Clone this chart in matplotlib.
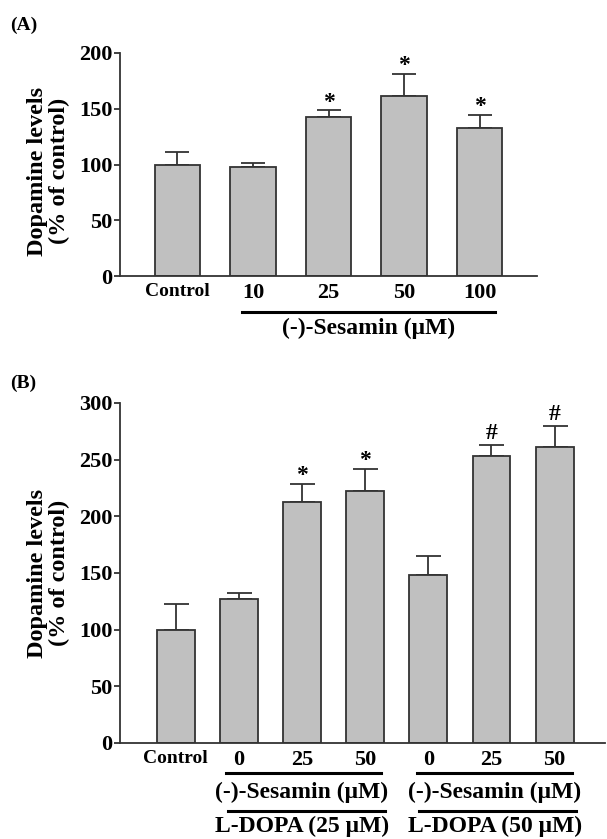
import matplotlib
matplotlib.use("Agg")
import matplotlib.pyplot as plt
import matplotlib.transforms as mtransforms
import numpy as np

plt.rcParams['font.family'] = ['Liberation Serif', 'DejaVu Serif']
plt.rcParams['font.weight'] = 'bold'

# panel A data
a_labels = ["Control", "10", "25", "50", "100"]
a_means = [100, 97.5, 142.5, 161, 132.5]
a_errs = [11, 3.5, 6, 20.5, 12]
a_marks = ["", "", "*", "*", "*"]

# panel B data
b_labels = ["Control", "0", "25", "50", "0", "25", "50"]
b_means = [100, 127, 212.5, 222.5, 148.5, 253, 261]
b_errs = [22.5, 5, 16, 19, 16.5, 9.5, 18.5]
b_marks = ["", "", "*", "*", "", "#", "#"]

BAR = "#c0c0c0"
EDGE = "#333333"

fig = plt.figure(figsize=(6.07, 8.39), dpi=100)
W, H = 607, 839


def fx(px):
    return px / W


def fy(py):
    return 1 - py / H


def draw_panel(ax, labels, means, errs, marks, ymax, step, xlim, capsize, lab_xy):
    x = np.arange(len(means))
    ax.bar(x, means, width=0.6, color=BAR, edgecolor=EDGE, linewidth=1.3, zorder=2)
    ax.errorbar(x, means, yerr=[np.zeros(len(errs)), errs], fmt="none",
                ecolor=EDGE, elinewidth=1.3, capsize=capsize, capthick=1.3, zorder=1)
    for xi, m, e, s in zip(x, means, errs, marks):
        if s:
            ax.annotate(s, (xi, m + e), xytext=(0, -1.5 if s == "*" else 1),
                        textcoords="offset points", ha="center", va="bottom",
                        fontsize=17, fontweight="bold")
    ax.set_ylim(0, ymax)
    ax.set_xlim(*xlim)
    ax.set_yticks(np.arange(0, ymax + 1, step))
    ax.set_xticks(x)
    ax.set_xticklabels(labels)
    for i, t in enumerate(ax.get_xticklabels()):
        t.set_fontsize(14 if i == 0 else 16)
        t.set_fontweight("bold")
    ax.tick_params(axis="x", length=0, pad=5)
    ax.tick_params(axis="y", length=4, width=1.3, pad=1.5, labelsize=16, color=EDGE)
    for s in ["top", "right"]:
        ax.spines[s].set_visible(False)
    for s in ["left", "bottom"]:
        ax.spines[s].set_color(EDGE)
        ax.spines[s].set_linewidth(1.3)
    ax.set_ylabel("Dopamine levels\n(% of control)", fontsize=17.5,
                  fontweight="bold", linespacing=1.05)
    ax.yaxis.set_label_coords(*lab_xy)


# panel A
axA = fig.add_axes([fx(120), fy(276), fx(537) - fx(120), fy(53) - fy(276)])
draw_panel(axA, a_labels, a_means, a_errs, a_marks, 200, 50, (-0.76, 4.76), 8.5,
           ((70 - 120) / 417, 0.47))
trA = mtransforms.blended_transform_factory(axA.transData, fig.transFigure)
axA.plot([0.86, 4.2], [fy(312), fy(312)], transform=trA, color="black",
         lw=2.2, clip_on=False)
axA.text(2.53, fy(328), "(-)-Sesamin (\u03bcM)", transform=trA, ha="center",
         va="center", fontsize=17, fontweight="bold")
fig.text(fx(10), fy(25), "(A)", fontsize=14, fontweight="bold", va="center")

# panel B
axB = fig.add_axes([fx(120), fy(743), 1 - fx(120) - 0.003, fy(403) - fy(743)])
draw_panel(axB, b_labels, b_means, b_errs, b_marks, 300, 50, (-0.88, 6.8), 9,
           ((70 - 120) / 485, 0.5))
trB = mtransforms.blended_transform_factory(axB.transData, fig.transFigure)
for x0, x1 in [(0.8, 3.25), (3.82, 6.28)]:
    axB.plot([x0, x1], [fy(773), fy(773)], transform=trB, color="black",
             lw=2.2, clip_on=False)
    axB.plot([x0 + 0.03, x1 + 0.06], [fy(811), fy(811)], transform=trB,
             color="black", lw=2.2, clip_on=False)
for xc, dose in [(2.0, "25"), (5.05, "50")]:
    axB.text(xc, fy(792), "(-)-Sesamin (\u03bcM)", transform=trB, ha="center",
             va="center", fontsize=17, fontweight="bold")
    axB.text(xc, fy(826), "L-DOPA (" + dose + " \u03bcM)", transform=trB,
             ha="center", va="center", fontsize=17, fontweight="bold")
fig.text(fx(10), fy(383), "(B)", fontsize=14, fontweight="bold", va="center")

fig.savefig("out.png", dpi=100)
